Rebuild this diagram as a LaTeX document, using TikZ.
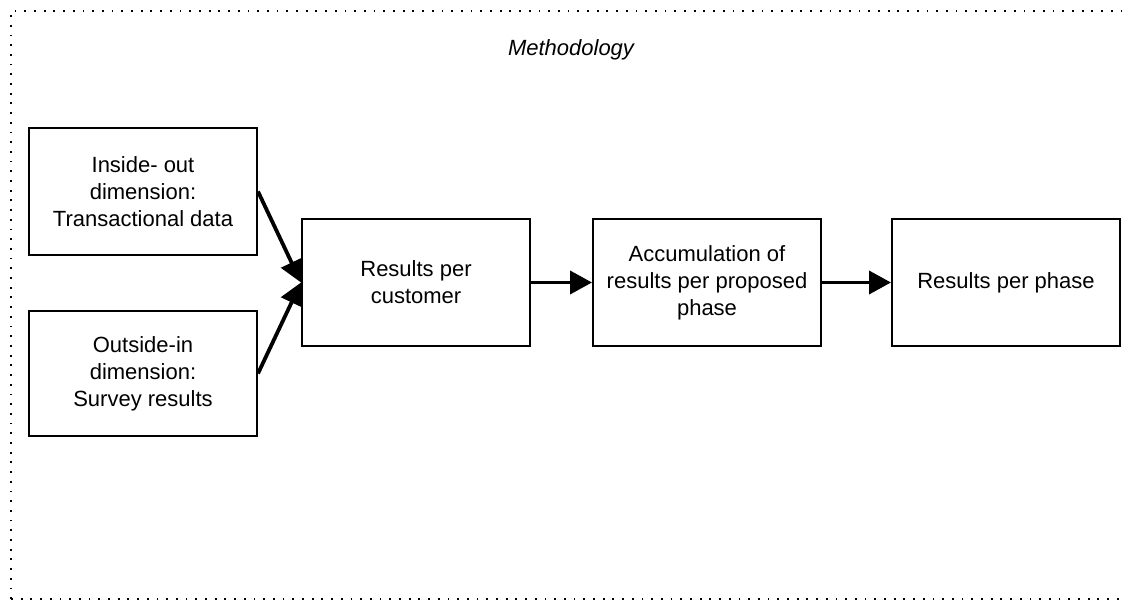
\documentclass[tikz,border=0pt]{standalone}
\usepackage{fontspec}
\setmainfont{Liberation Sans}
\usetikzlibrary{arrows.meta}
\begin{document}
\begin{tikzpicture}[x=1pt,y=-1pt,
  box/.style={draw,line width=2pt,minimum width=228pt,minimum height=127pt,
    inner sep=0pt,align=center,font=\fontsize{22}{27}\selectfont},
  flow/.style={line width=3.8pt,-{Triangle[length=22pt,width=23pt]}},
  frame/.style={line width=1.8pt,dash pattern=on 1.8pt off 7.9pt}]
  \useasboundingbox (0,0) rectangle (1127,601);
  \clip (0,0) rectangle (1127,601);
  % dotted frame around the whole method
  \draw[frame] (11,599) -- (11,11) -- (1140,11);
  \draw[frame] (11,599) -- (1140,599);
  \node[font=\fontsize{22}{27}\selectfont\itshape,anchor=base] (title) at (571,56) {Methodology};
  % steps
  \node[box] (inside) at (143,191.5) {Inside- out\\dimension:\\Transactional data};
  \node[box,minimum height=125pt] (outside) at (143,373.5) {Outside-in\\dimension:\\Survey results};
  \node[box] (cust) at (416,282.5) {Results per\\customer};
  \node[box] (accu) at (707,282.5) {Accumulation of\\results per proposed\\phase};
  \node[box] (phase) at (1006,282.5) {Results per phase};
  % connectors
  \draw[flow] (inside.east) -- (cust.west);
  \draw[flow] (outside.east) -- (cust.west);
  \draw[flow] (cust.east) -- (accu.west);
  \draw[flow] (accu.east) -- (phase.west);
\end{tikzpicture}
\end{document}
